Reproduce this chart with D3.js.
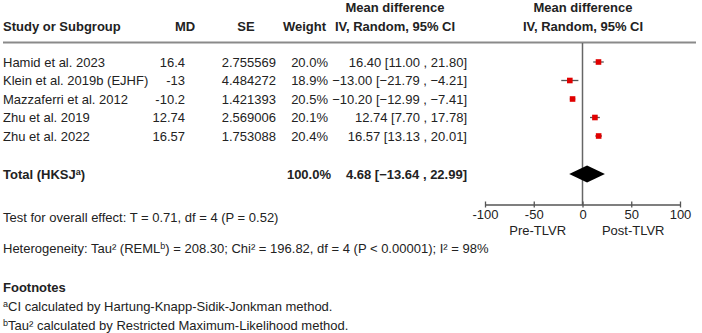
<!DOCTYPE html>
<html>
<head>
<meta charset="utf-8">
<script src="https://cdn.jsdelivr.net/npm/d3@7"></script>
<style>
  body { margin: 0; background: #fff; }
  text { font-family: "Liberation Sans", Arial, sans-serif; font-size: 13px; fill: #222; }
  .bold { font-weight: bold; }
</style>
</head>
<body>
<div id="chart"></div>
<script>
"use strict";

const studies = ["Hamid et al. 2023", "Klein et al. 2019b (EJHF)", "Mazzaferri et al. 2012", "Zhu et al. 2019", "Zhu et al. 2022"];
const md = [16.4, -13, -10.2, 12.74, 16.57];
const se = ["2.755569", "4.484272", "1.421393", "2.569006", "1.753088"];
const weights = [20.0, 18.9, 20.5, 20.1, 20.4];
const ciLow = [11.00, -21.79, -12.99, 7.70, 13.13];
const ciHigh = [21.80, -4.21, -7.41, 17.78, 20.01];
const total = { mean: 4.68, low: -13.64, high: 22.99 };
const axisTicks = [-100, -50, 0, 50, 100];

const msm = { width: 702, height: 333 };

const svg = d3.select("#chart").append("svg")
    .attr("width", msm.width)
    .attr("height", msm.height);

const f2 = d3.format(".2f");
const x = d3.scaleLinear().domain([-100, 100]).range([485, 680]);
const rowY = d3.scaleLinear().domain([0, 1]).range([62, 80.5]);

// headers
function txt(xp, yp, s, anchor, cls) {
    return svg.append("text").attr("x", xp).attr("y", yp)
        .attr("text-anchor", anchor || "start")
        .attr("class", cls || null)
        .text(s);
}
txt(395, 12, "Mean difference", "middle", "bold");
txt(395, 31, "IV, Random, 95% CI", "middle", "bold");
txt(583, 12, "Mean difference", "middle", "bold");
txt(583, 31, "IV, Random, 95% CI", "middle", "bold");
txt(3, 31, "Study or Subgroup", "start", "bold");
txt(185, 31, "MD", "middle", "bold");
txt(246, 31, "SE", "middle", "bold");
txt(326, 31, "Weight", "end", "bold");

svg.append("line").attr("x1", 3).attr("x2", 696).attr("y1", 42.5).attr("y2", 42.5)
    .attr("stroke", "#8a8a8a").attr("stroke-width", 2);

// zero line
svg.append("line").attr("x1", x(0)).attr("x2", x(0)).attr("y1", 43).attr("y2", 205)
    .attr("stroke", "#666").attr("stroke-width", 1.5);

// study rows
studies.forEach((s, i) => {
    const yy = rowY(i) + 4.5;
    txt(3, yy, s);
    txt(185, yy, String(md[i]), "end");
    txt(276, yy, se[i], "end");
    txt(328, yy, weights[i].toFixed(1) + "%", "end");
    txt(467, yy, f2(md[i]) + " [" + f2(ciLow[i]) + " , " + f2(ciHigh[i]) + "]", "end");
});

const rows = svg.selectAll(".row").data(studies.map((s, i) => i)).enter().append("g");
rows.append("line")
    .attr("x1", i => x(ciLow[i])).attr("x2", i => x(ciHigh[i]))
    .attr("y1", i => rowY(i)).attr("y2", i => rowY(i))
    .attr("stroke", "#555").attr("stroke-width", 1.3);
rows.append("rect")
    .attr("x", i => x(md[i]) - 2.8).attr("y", i => rowY(i) - 2.8)
    .attr("width", 5.6).attr("height", 5.6)
    .attr("fill", "#e00000");

// total row
const ty = 174;
const tl = txt(3, ty + 4.5, "Total (HKSJ", "start", "bold");
tl.append("tspan").attr("dy", -4).style("font-size", "9px").text("a");
tl.append("tspan").attr("dy", 4).text(")");
txt(331, ty + 4.5, "100.0%", "end", "bold");
txt(467, ty + 4.5, f2(total.mean) + " [" + f2(total.low) + " , " + f2(total.high) + "]", "end", "bold");
svg.append("path")
    .attr("d", "M" + x(total.low) + "," + ty + "L" + x(total.mean) + "," + (ty - 8.5) +
        "L" + x(total.high) + "," + ty + "L" + x(total.mean) + "," + (ty + 8.5) + "Z")
    .attr("fill", "#000");

// axis
const axis = svg.append("g").attr("transform", "translate(0,204.5)")
    .call(d3.axisBottom(x).tickValues(axisTicks).tickSize(0).tickPadding(5).tickFormat(d => String(d)));
axis.select(".domain").attr("stroke", "#555").attr("stroke-width", 1.3);
axis.selectAll(".tick text").style("font-size", "13px").style("font-family", "Liberation Sans, Arial, sans-serif").attr("fill", "#222");
axis.selectAll(".tick").append("line").attr("y1", -3).attr("y2", 3).attr("stroke", "#555").attr("stroke-width", 1.3);
txt(x(-46), 235, "Pre-TLVR", "middle");
txt(x(52), 235, "Post-TLVR", "middle");

// text block
txt(3, 222, "Test for overall effect: T = 0.71, df = 4 (P = 0.52)");
const het = txt(3, 253, "Heterogeneity: Tau² (REML");
het.append("tspan").attr("dy", -4).style("font-size", "9px").text("b");
het.append("tspan").attr("dy", 4).text(") = 208.30; Chi² = 196.82, df = 4 (P < 0.00001); I² = 98%");

txt(3, 292, "Footnotes", "start", "bold");
const fa = txt(3, 311, "");
fa.append("tspan").attr("dy", -4).style("font-size", "9px").text("a");
fa.append("tspan").attr("dy", 4).text("CI calculated by Hartung-Knapp-Sidik-Jonkman method.");
const fb = txt(3, 330, "");
fb.append("tspan").attr("dy", -4).style("font-size", "9px").text("b");
fb.append("tspan").attr("dy", 4).text("Tau² calculated by Restricted Maximum-Likelihood method.");
</script>
</body>
</html>
